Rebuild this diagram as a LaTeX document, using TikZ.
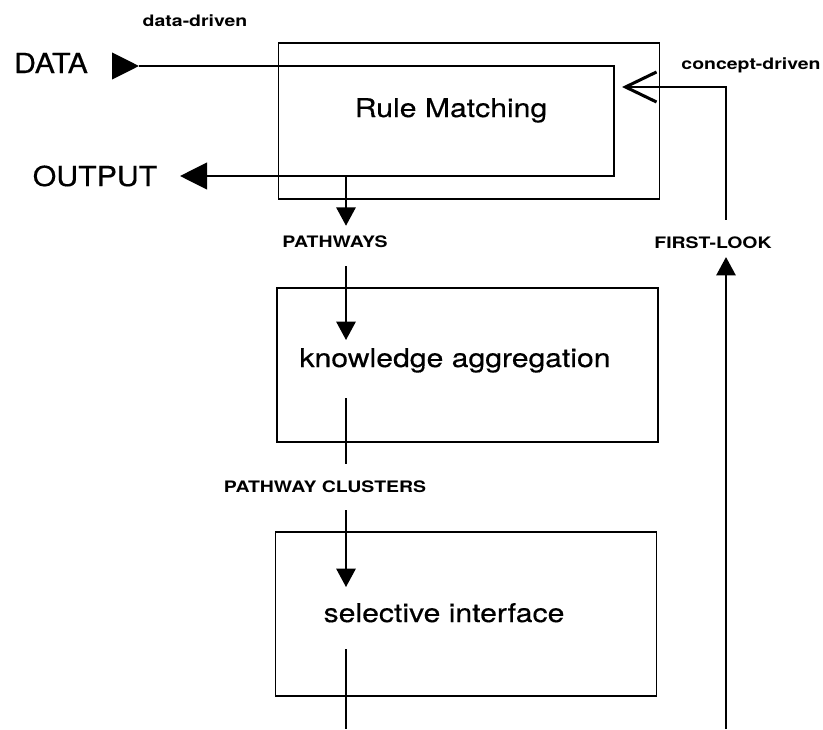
\documentclass[tikz,border=0pt]{standalone}
\usepackage{fontspec}
\setmainfont{TeX Gyre Heros}
\newfontfamily\boxfont[FakeStretch=1.17, FakeBold=0.4]{TeX Gyre Heros}
\newfontfamily\termfont[FakeStretch=1.1, FakeBold=0.4]{TeX Gyre Heros}
\newfontfamily\tagfont[FakeStretch=1.23]{TeX Gyre Heros}
\usetikzlibrary{arrows.meta}

\begin{document}
\begin{tikzpicture}[x=0.03cm, y=-0.03cm, line width=1.5pt,
    boxStyle/.style={rectangle, draw, line width=1.6pt, minimum width=11.43cm, inner sep=0pt},
    boxText/.style={font=\boxfont\fontsize{22}{26}\selectfont, anchor=base, inner sep=0pt},
    termText/.style={font=\termfont\fontsize{23.5}{28}\selectfont, anchor=base, inner sep=0pt},
    tagText/.style={font=\tagfont\bfseries\fontsize{13.5}{16}\selectfont, anchor=base, inner sep=0pt},
    bigTip/.style={-{Triangle[length=0.81cm, width=0.8cm]}},
    fillTip/.style={-{Triangle[length=0.55cm, width=0.58cm]}}]
    \useasboundingbox (0,0) rectangle (823,729);

    \node[boxStyle, minimum height=4.68cm] (rule_box) at (469, 121) {};
    \node[boxStyle, minimum height=4.62cm] (know_box) at (467.5, 365) {};
    \node[boxStyle, minimum height=4.92cm] (sel_box)  at (466, 614) {};

    \node[boxText] (rule_txt) at (451, 117) {Rule Matching};
    \node[boxText] (know_txt) at (455, 367) {knowledge aggregation};
    \node[boxText] (sel_txt)  at (444, 622) {selective interface};

    \node[termText] (data_lbl) at ( 51,  73) {DATA};
    \node[termText] (out_lbl)  at ( 95, 186) {OUTPUT};

    \node[tagText] (dd_lbl) at (195,  26) {data-driven};
    \node[tagText] (cd_lbl) at (751,  69) {concept-driven};
    \node[tagText] (pw_lbl) at (335, 247) {PATHWAYS};
    \node[tagText] (fl_lbl) at (713, 248) {FIRST-LOOK};
    \node[tagText] (pc_lbl) at (325, 492) {PATHWAY CLUSTERS};

    \coordinate (data_in)  at (112,  66);
    \coordinate (data_tip) at (139,  66);
    \coordinate (loop_tr)  at (614,  66);
    \coordinate (loop_br)  at (614, 176);
    \coordinate (out_tip)  at (180, 176);
    \coordinate (pw_split) at (346, 176);
    \coordinate (know_in)  at (346, 340);
    \coordinate (know_out) at (346, 398);
    \coordinate (sel_in)   at (346, 587);
    \coordinate (sel_out)  at (346, 649);
    \coordinate (sel_end)  at (346, 729);
    \coordinate (fl_start) at (726, 729);
    \coordinate (fl_turn)  at (726,  87);
    \coordinate (cd_tip)   at (622,  87);

    \draw[bigTip] (data_in) -- (data_tip);
    \draw[bigTip] (data_tip) -- (loop_tr) -- (loop_br) -- (out_tip);
    \draw[fillTip, shorten >=0.26cm] (pw_split) -- (pw_split |- pw_lbl.north);
    \draw[fillTip, shorten <=0.54cm] (pw_lbl.south -| know_in) -- (know_in);
    \draw[shorten >=0.47cm] (know_out) -- (know_out |- pc_lbl.north);
    \draw[fillTip, shorten <=0.51cm] (pc_lbl.south -| sel_in) -- (sel_in);
    \draw (sel_out) -- (sel_end);
    \draw[fillTip, shorten >=0.24cm] (fl_start) -- (fl_start |- fl_lbl.south);
    \draw[-{Straight Barb[length=0.93cm, width=0.9cm, line width=2.6pt]}, shorten <=0.47cm]
        (fl_turn |- fl_lbl.north) -- (fl_turn) -- (cd_tip);
\end{tikzpicture}
\end{document}
